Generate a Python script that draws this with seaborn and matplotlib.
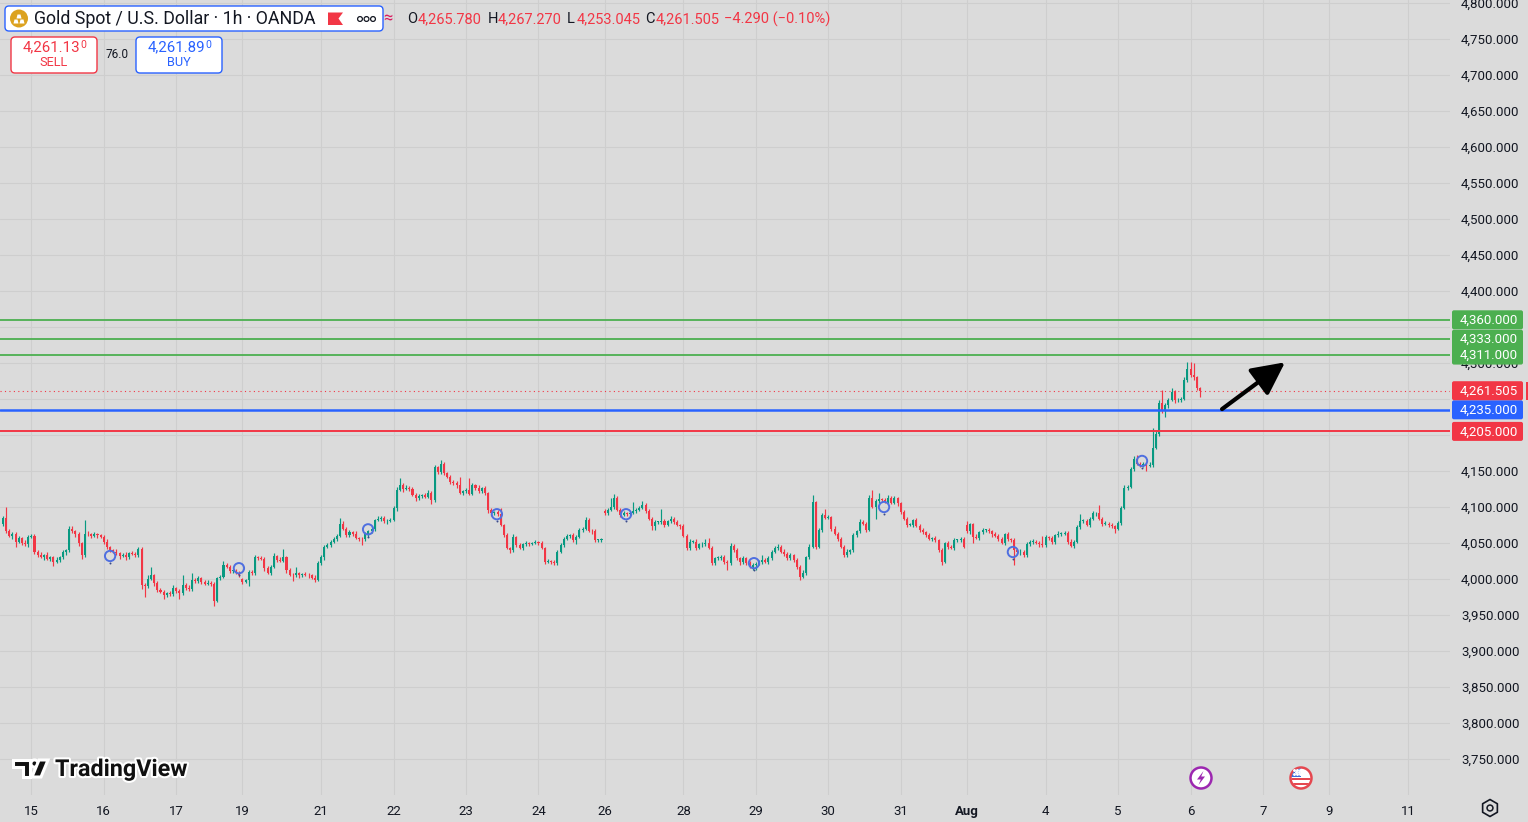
import numpy as np
import pandas as pd
import matplotlib
matplotlib.use("Agg")
import matplotlib.pyplot as plt
import matplotlib.patches as mpatches
import matplotlib.patheffects as pe
from matplotlib.ticker import FuncFormatter
import seaborn as sns

# ---------------- data (hourly XAUUSD candles) ----------------
CLOSE = [
    4085, 4067, 4060, 4063, 4052, 4057, 4050, 4048, 4059,                      # Jul 14
    4060, 4038, 4034, 4031, 4033, 4028, 4030, 4024, 4027, 4030, 4037, 4040, 4070, 4066, 4062, 4050, 4033, 4063, 4062, 4060, 4062, 4061, 4059,  # Jul 15
    4052, 4044, 4040, 4038, 4036, 4032, 4034, 4030, 4036, 4035, 4033, 4041, 3992, 3990, 4000, 4005, 3994, 3985, 3982, 3978, 3980, 3979, 3987,  # Jul 16
    3983, 3980, 3992, 3988, 3986, 3999, 3997, 4001, 3996, 3993, 3995, 3993, 3970, 4001, 4003, 4020, 4017, 4011, 4011, 4009, 4006,  # Jul 17
    3996, 3998,                                                                # Jul 19
    4010, 4008, 4030, 4029, 4028, 4015, 4009, 4017, 4032, 4027, 4025, 4030, 4012, 4006, 4005, 4008, 4005, 4007, 4006, 4005, 4002, 3999, 4022,  # Jul 20
    4030, 4045, 4047, 4052, 4056, 4060, 4077, 4070, 4061, 4065, 4063, 4057, 4056, 4055, 4062, 4066, 4070, 4082, 4084, 4085, 4080, 4081, 4082,  # Jul 21
    4098, 4124, 4131, 4125, 4127, 4125, 4117, 4112, 4115, 4116, 4114, 4120, 4110, 4155, 4148, 4160, 4147, 4142, 4135, 4133, 4130, 4120, 4122,  # Jul 22
    4124, 4118, 4130, 4127, 4122, 4126, 4119, 4096, 4091, 4093, 4090, 4075, 4061, 4043, 4040, 4058, 4047, 4043, 4048, 4050, 4049, 4050, 4051,  # Jul 23
    4050, 4043, 4024, 4025, 4024, 4022, 4038, 4047, 4056, 4060, 4061, 4054, 4059, 4068, 4070, 4082, 4067, 4066, 4054, 4054, 4055,  # Jul 24
    4091, 4096,                                                                # Jul 26
    4100, 4112, 4096, 4089, 4091, 4090, 4092, 4095, 4096, 4099, 4103, 4094, 4084, 4073, 4079, 4079, 4080, 4075, 4080, 4084, 4079, 4075, 4073,  # Jul 27
    4060, 4043, 4052, 4052, 4043, 4048, 4048, 4050, 4043, 4022, 4029, 4029, 4031, 4024, 4022, 4046, 4040, 4029, 4023, 4029, 4022, 4017, 4020,  # Jul 28
    4021, 4024, 4027, 4024, 4029, 4038, 4043, 4045, 4038, 4035, 4029, 4033, 4026, 4017, 4003, 4009, 4030, 4045, 4107, 4045, 4068, 4089, 4085,  # Jul 29
    4086, 4070, 4063, 4056, 4045, 4033, 4038, 4040, 4061, 4066, 4079, 4077, 4068, 4113, 4100, 4108, 4111, 4110, 4107, 4113, 4106, 4112, 4105,  # Jul 30
    4093, 4084, 4075, 4075, 4082, 4074, 4068, 4065, 4061, 4056, 4057, 4054, 4040, 4024, 4050, 4045, 4043, 4054, 4054, 4056, 4045,  # Jul 31
    4066, 4076,                                                                # Aug 2
    4059, 4057, 4065, 4068, 4068, 4066, 4062, 4060, 4056, 4050, 4062, 4055, 4054, 4040, 4037, 4038, 4033, 4048, 4052, 4052, 4050, 4048, 4047,  # Aug 3
    4058, 4057, 4051, 4061, 4063, 4063, 4064, 4052, 4046, 4052, 4072, 4081, 4081, 4075, 4084, 4091, 4091, 4084, 4077, 4077, 4075, 4073, 4070,  # Aug 4
    4078, 4099, 4127, 4128, 4153, 4167, 4160, 4158, 4160, 4157, 4159, 4182, 4202, 4245, 4233, 4241, 4249, 4260, 4248, 4249, 4250, 4276, 4292,  # Aug 5
    4284, 4280, 4265.78, 4261.505,                                             # Aug 6
]
UPPER_WICK = [
    3, 15, 3, 2, 2, 3, 2, 4, 2,
    3, 2, 2, 3, 2, 4, 2, 2, 3, 2, 3, 2, 3, 4, 2, 3, 2, 19, 3, 2, 3, 2, 2,
    2, 3, 2, 2, 3, 2, 2, 3, 2, 3, 2, 4, 3, 3, 5, 12, 2, 3, 2, 3, 2, 3, 4,
    2, 3, 13, 2, 3, 9, 2, 3, 2, 2, 3, 2, 3, 2, 3, 5, 2, 3, 2, 3, 2,
    2, 2,
    3, 2, 4, 2, 3, 2, 3, 2, 4, 2, 3, 11, 2, 3, 2, 9, 2, 2, 3, 2, 2, 3, 3,
    3, 2, 3, 2, 3, 2, 8, 3, 2, 3, 2, 3, 2, 2, 3, 2, 3, 2, 3, 2, 3, 2, 3,
    3, 4, 9, 3, 4, 2, 3, 2, 3, 2, 3, 3, 2, 3, 2, 5, 3, 2, 3, 2, 3, 12, 2,
    2, 16, 3, 2, 3, 2, 3, 2, 3, 2, 3, 8, 2, 3, 2, 4, 2, 3, 2, 3, 2, 2, 3,
    2, 3, 2, 3, 2, 3, 2, 3, 2, 3, 2, 3, 2, 3, 2, 4, 3, 2, 3, 2, 2,
    2, 3,
    12, 6, 3, 2, 3, 2, 3, 12, 2, 3, 5, 2, 3, 2, 3, 2, 17, 3, 2, 4, 2, 3, 2,
    3, 2, 3, 2, 3, 2, 3, 6, 7, 3, 2, 3, 2, 3, 2, 4, 2, 3, 2, 3, 2, 3, 2,
    2, 3, 7, 2, 3, 2, 3, 3, 2, 3, 2, 3, 2, 3, 2, 3, 2, 3, 10, 2, 3, 2, 8,
    3, 2, 3, 2, 3, 2, 3, 2, 3, 2, 4, 3, 2, 3, 10, 3, 9, 2, 3, 3, 2, 3, 2,
    2, 3, 2, 3, 2, 3, 2, 3, 2, 3, 2, 3, 2, 3, 2, 3, 2, 3, 2, 3, 2,
    5, 2,
    2, 3, 2, 3, 2, 3, 2, 3, 2, 3, 2, 3, 2, 3, 2, 3, 2, 3, 2, 3, 2, 3, 12,
    3, 2, 3, 2, 3, 2, 3, 2, 3, 2, 3, 9, 2, 3, 2, 3, 2, 12, 2, 3, 2, 3, 2,
    3, 2, 3, 2, 3, 4, 5, 2, 3, 2, 3, 28, 3, 4, 17, 3, 2, 5, 3, 2, 3, 4, 9,
    10, 16, 2, 1.49,
]
LOWER_WICK = [
    3, 3, 2, 4, 8, 2, 3, 2, 3,
    2, 3, 4, 2, 5, 2, 3, 6, 2, 3, 2, 3, 2, 2, 3, 4, 5, 3, 2, 3, 2, 4, 2,
    3, 2, 3, 2, 2, 4, 2, 3, 2, 2, 3, 2, 6, 15, 3, 2, 4, 3, 2, 6, 3, 2, 2,
    3, 8, 2, 3, 2, 2, 3, 2, 3, 2, 2, 3, 8, 2, 3, 2, 2, 3, 2, 2, 3,
    3, 2,
    8, 3, 2, 3, 2, 4, 2, 3, 2, 3, 2, 2, 3, 2, 8, 2, 3, 2, 2, 3, 2, 3, 2,
    2, 3, 2, 3, 2, 3, 2, 2, 3, 2, 3, 2, 3, 8, 2, 3, 2, 3, 2, 3, 2, 3, 2,
    2, 3, 2, 4, 2, 3, 2, 3, 2, 3, 2, 2, 6, 3, 2, 2, 3, 2, 3, 2, 3, 2, 3,
    3, 2, 2, 3, 2, 3, 2, 4, 3, 2, 3, 2, 3, 2, 4, 2, 3, 2, 3, 2, 3, 2, 2,
    3, 2, 3, 2, 3, 2, 3, 2, 3, 2, 3, 2, 6, 2, 3, 2, 2, 3, 2, 3, 2,
    2, 2,
    2, 3, 2, 3, 2, 3, 2, 2, 3, 2, 2, 3, 2, 5, 5, 3, 2, 3, 2, 2, 3, 2, 3,
    2, 3, 3, 2, 3, 2, 3, 2, 2, 3, 2, 3, 2, 3, 9, 2, 3, 2, 3, 2, 3, 2, 4,
    7, 2, 3, 2, 3, 2, 2, 3, 2, 3, 2, 3, 2, 3, 5, 2, 3, 2, 2, 3, 2, 3, 2,
    2, 3, 2, 3, 2, 3, 2, 3, 2, 3, 2, 2, 3, 2, 2, 17, 2, 3, 2, 3, 2, 2, 3,
    3, 2, 3, 2, 3, 2, 3, 2, 3, 2, 3, 2, 3, 4, 2, 3, 2, 3, 2, 3, 2,
    2, 3,
    9, 2, 3, 2, 3, 2, 3, 2, 3, 2, 3, 2, 3, 21, 2, 3, 2, 3, 2, 3, 2, 3, 2,
    2, 3, 2, 3, 2, 3, 2, 3, 2, 3, 2, 2, 3, 2, 3, 2, 3, 2, 3, 2, 3, 2, 6,
    2, 3, 2, 4, 2, 3, 2, 3, 2, 7, 2, 3, 2, 3, 2, 8, 3, 2, 3, 2, 3, 2, 3,
    3, 4, 3, 8.46,
]
# session opens (after the daily/weekend break) that gap away from the prior close
GAP_IDX = [0, 76, 191, 306]
GAP_OPEN = [4076, 4000, 4095, 4075]

DAY_LABELS = ["15", "16", "17", "19", "21", "22", "23", "24", "26", "28", "29", "30",
              "31", "Aug", "4", "5", "6", "7", "9", "11"]
DAY_IDX = [9, 32, 55, 76, 101, 124, 147, 170, 191, 216, 239, 262, 285, 306, 331, 354,
           377, 400, 421, 446]

PRICE_TICKS = list(range(3750, 4801, 50))
HIDDEN_TICKS = [4200, 4250, 4350]   # covered by the level labels on the price scale

MARK_IDX = [34.0, 74.9, 115.9, 156.8, 197.8, 238.4, 279.7, 320.6, 361.6]
MARK_PRICE = [4032, 4015, 4069, 4090, 4090, 4022, 4100, 4037.5, 4164]

LEVEL_PRICES = [4360, 4333, 4311, 4235, 4205]
LEVEL_KIND = ["green", "green", "green", "blue", "red"]
LAST_PRICE = 4261.505
ARROW_FROM = (387, 4236)
ARROW_TO = (407, 4301)

# ---------------- build table ----------------
n = len(CLOSE)
assert len(UPPER_WICK) == n and len(LOWER_WICK) == n, (n, len(UPPER_WICK), len(LOWER_WICK))
opens = [CLOSE[i - 1] if i > 0 else CLOSE[0] for i in range(n)]
for gi, go in zip(GAP_IDX, GAP_OPEN):
    opens[gi] = go
df = pd.DataFrame({"idx": np.arange(n), "open": opens, "close": CLOSE})
df["high"] = np.maximum(df["open"], df["close"]) + np.array(UPPER_WICK)
df["low"] = np.minimum(df["open"], df["close"]) - np.array(LOWER_WICK)
df["up"] = df["close"] >= df["open"]

# ---------------- style ----------------
BG = "#dbdbdb"
GRID = "#cecece"
TXT = "#131722"
GREEN = "#089981"
RED = "#f23645"
LV_GREEN = "#4caf50"
BLUE = "#2962ff"
MARK_BLUE = "#4f6fe0"

sns.set_theme(style="white")
plt.rcParams["font.family"] = ["Roboto", "DejaVu Sans"]

W, H = 1528, 822
fig = plt.figure(figsize=(W / 100, H / 100), dpi=100)
fig.patch.set_facecolor(BG)

ax = fig.add_axes([0, 27 / H, 1450 / W, 795 / H])
ax.set_facecolor(BG)
ax.set_xlim(-0.952, 459.37)
ax.set_ylim(3700, 4804.2)
for s in ax.spines.values():
    s.set_visible(False)

ax.yaxis.tick_right()
ax.set_yticks(PRICE_TICKS)
ax.yaxis.set_major_formatter(
    FuncFormatter(lambda v, p: "" if round(v) in HIDDEN_TICKS else f"{v:,.3f}"))
ax.tick_params(axis="y", length=0, pad=8, labelsize=9.5, labelcolor=TXT)
ax.set_xticks(DAY_IDX)
ax.set_xticklabels(DAY_LABELS)
ax.tick_params(axis="x", length=0, pad=7, labelsize=9.5, labelcolor=TXT)
for lbl in ax.get_xticklabels():
    if lbl.get_text() == "Aug":
        lbl.set_fontweight("bold")
ax.grid(True, color=GRID, lw=0.8)
ax.set_axisbelow(True)

# candles
cols = np.where(df["up"], GREEN, RED)
ax.vlines(df["idx"], df["low"], df["high"], colors=cols, lw=0.85, zorder=3)
body = np.maximum((df["close"] - df["open"]).abs(), 1.0)
ax.bar(df["idx"], body, bottom=np.minimum(df["open"], df["close"]), width=0.64,
       color=cols, linewidth=0, zorder=4)

# event markers
sns.scatterplot(x=MARK_IDX, y=MARK_PRICE, ax=ax, s=55, color="none",
                edgecolor=MARK_BLUE, linewidth=1.4, zorder=6, legend=False)
sns.scatterplot(x=MARK_IDX, y=[p - 10 for p in MARK_PRICE], ax=ax, s=2,
                color="#3a4a8a", linewidth=0, zorder=6, legend=False)

# horizontal levels
kind_col = {"green": LV_GREEN, "blue": BLUE, "red": RED}
kind_lw = {"green": 1.3, "blue": 1.8, "red": 1.4}
for p, k in zip(LEVEL_PRICES, LEVEL_KIND):
    ax.axhline(p, color=kind_col[k], lw=kind_lw[k], zorder=5)
ax.axhline(LAST_PRICE, color=RED, lw=0.8, ls=(0, (1, 3)), zorder=2)

# arrow
ax.annotate("", xy=ARROW_TO, xytext=ARROW_FROM,
            arrowprops=dict(arrowstyle="-|>,head_length=1.0,head_width=0.5",
                            lw=3.0, color="black", mutation_scale=20,
                            shrinkA=0, shrinkB=0), zorder=7)

# ---------------- overlay in pixel coordinates ----------------
ov = fig.add_axes([0, 0, 1, 1], zorder=10)
ov.set_xlim(0, W)
ov.set_ylim(H, 0)
ov.axis("off")
ov.patch.set_alpha(0)


def py(price):
    return 579 - (price - 4000) * 0.72


# price label boxes
box_items = [(p, kind_col[k], f"{p:,.3f}") for p, k in zip(LEVEL_PRICES, LEVEL_KIND)]
box_items.append((LAST_PRICE, RED, f"{LAST_PRICE:,.3f}"))
for p, c, t in box_items:
    y = py(p)
    ov.add_patch(mpatches.FancyBboxPatch((1452, y - 9.5), 71, 19,
                                         boxstyle="round,pad=0,rounding_size=2",
                                         fc=c, ec="none", zorder=5))
    ov.text(1518, y + 0.5, t, color="white", fontsize=9.5, ha="right", va="center", zorder=6)
ov.add_patch(mpatches.Rectangle((1526, py(LAST_PRICE) - 9), 3, 18, fc=RED, ec="none"))

# header symbol box
ov.add_patch(mpatches.FancyBboxPatch((5, 6), 378, 25, boxstyle="round,pad=0,rounding_size=4",
                                     fc="white", ec=BLUE, lw=1.0))
ov.add_patch(mpatches.Circle((19, 18.5), 9, fc="#dca21f", ec="none"))
for (bx, by) in [(13.5, 19.5), (19.5, 19.5), (16.5, 14.5)]:
    ov.add_patch(mpatches.Polygon([(bx, by + 4), (bx + 5, by + 4), (bx + 4, by), (bx + 1, by)],
                                  closed=True, fc="white", ec="none"))
ov.text(34, 19.5, "Gold Spot / U.S. Dollar · 1h · OANDA", fontsize=12.8, color=TXT,
        ha="left", va="center")
ov.add_patch(mpatches.Polygon([(328, 12.5), (343, 12.5), (338.5, 18.5), (343, 25), (328, 25)],
                              closed=True, fc=RED, ec="none"))
ov.scatter([360, 366.5, 373], [19, 19, 19], s=12, facecolors="none", edgecolors=TXT,
           linewidths=0.9)
ov.text(388, 18, "≈", fontsize=12, color="#d81b60", ha="center", va="center")

# OHLC text
ohlc = [(407, "O", TXT), (418, "4,265.780", RED), (488, "H", TXT), (498, "4,267.270", RED),
        (567, "L", TXT), (577, "4,253.045", RED), (645, "C", TXT), (656, "4,261.505", RED),
        (724, "\u22124.290 (\u22120.10%)", RED)]
for x, t, c in ohlc:
    ov.text(x, 19, t, fontsize=10.5, color=c, ha="left", va="center")

# sell / buy boxes
ov.add_patch(mpatches.FancyBboxPatch((11, 37), 86, 36, boxstyle="round,pad=0,rounding_size=4",
                                     fc="white", ec=RED, lw=1.0))
ov.text(80, 47, "4,261.13", fontsize=10.8, color=RED, ha="right", va="center")
ov.text(80.5, 44.5, "0", fontsize=7.5, color=RED, ha="left", va="center")
ov.text(54, 62, "SELL", fontsize=9.2, color=RED, ha="center", va="center")
ov.text(117, 55, "76.0", fontsize=8.5, color=TXT, ha="center", va="center")
ov.add_patch(mpatches.FancyBboxPatch((136, 37), 86, 36, boxstyle="round,pad=0,rounding_size=4",
                                     fc="white", ec=BLUE, lw=1.0))
ov.text(205, 47, "4,261.89", fontsize=10.8, color=BLUE, ha="right", va="center")
ov.text(205.5, 44.5, "0", fontsize=7.5, color=BLUE, ha="left", va="center")
ov.text(179, 62, "BUY", fontsize=9.2, color=BLUE, ha="center", va="center")

# TradingView watermark
stroke = [pe.withStroke(linewidth=3, foreground="white")]
logo_parts = [
    mpatches.Polygon([(13, 760), (30, 760), (30, 777), (23, 777), (23, 767), (13, 767)], closed=True),
    mpatches.Circle((34.5, 763.5), 3.6),
    mpatches.Polygon([(39, 760), (48, 760), (41, 777), (32, 777)], closed=True),
]
for part in logo_parts:
    part.set_facecolor("#111111")
    part.set_edgecolor("white")
    part.set_linewidth(2.2)
    ov.add_patch(part)
ov.text(55, 769.5, "TradingView", fontsize=16.8, fontweight="bold", color="#111111",
        ha="left", va="center", path_effects=stroke)

# bottom event icons
ov.add_patch(mpatches.Circle((1201, 778), 10.5, fc="white", ec="#9c27b0", lw=1.8))
ov.add_patch(mpatches.Polygon([(1203.5, 771), (1197, 779.5), (1200.8, 779.5), (1198.5, 785),
                               (1205, 776.5), (1201.2, 776.5)], closed=True,
                              fc="#9c27b0", ec="none"))
flag_bg = mpatches.Circle((1301, 778), 10.5, fc="white", ec="#e5474f", lw=1.8, zorder=3)
ov.add_patch(flag_bg)
clip = mpatches.Circle((1301, 778), 9.5, transform=ov.transData)
for rect in [mpatches.Rectangle((1290, 777.5), 22, 2.5, fc="#e5474f", ec="none", zorder=4),
             mpatches.Rectangle((1290, 782.5), 22, 2.5, fc="#e5474f", ec="none", zorder=4),
             mpatches.Rectangle((1290, 767), 11, 9.5, fc="#3d6fd8", ec="none", zorder=4)]:
    ov.add_patch(rect)
    rect.set_clip_path(clip)
ov.scatter([1294, 1297, 1300, 1295.5, 1298.5, 1294, 1297, 1300],
           [770, 770, 770, 772, 772, 774, 774, 774], s=1.2, color="white", zorder=5)

# settings gear at axis corner
ov.scatter([1490], [808], marker="h", s=150, facecolors="none", edgecolors=TXT, linewidths=1.2)
ov.scatter([1490], [808], marker="o", s=18, facecolors="none", edgecolors=TXT, linewidths=1.1)

fig.savefig("out.png", dpi=100, facecolor=BG)
